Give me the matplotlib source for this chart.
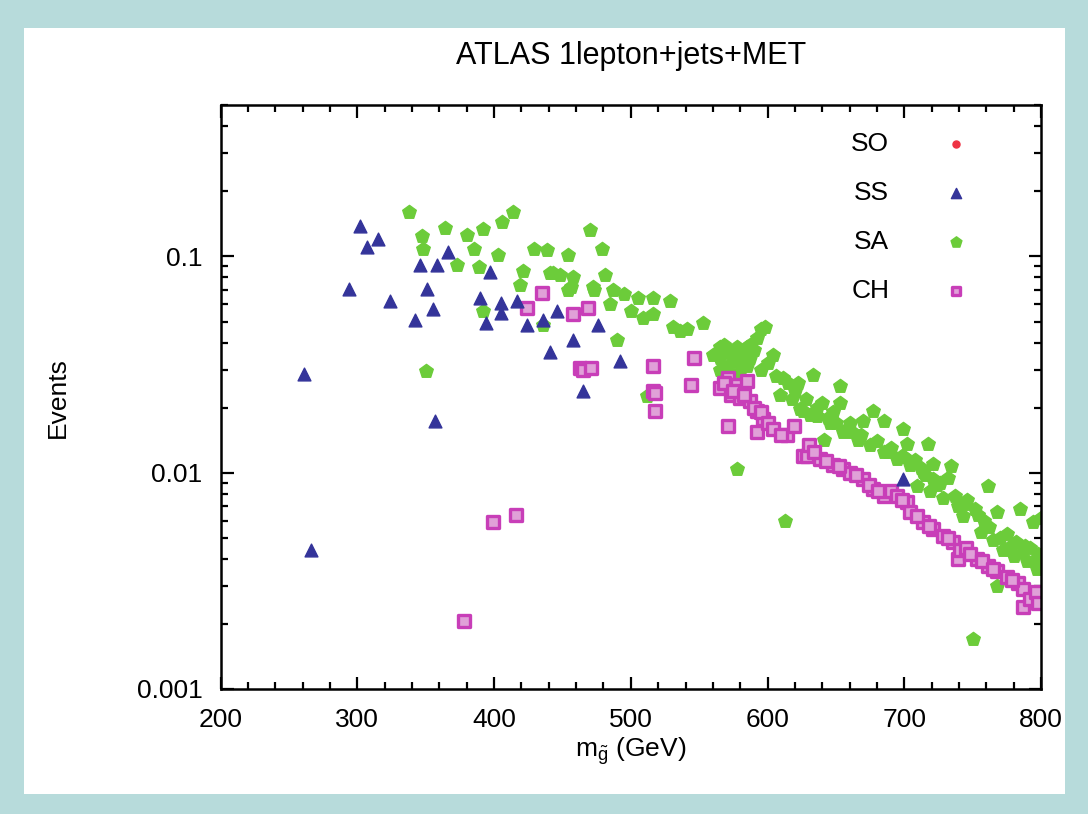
import numpy as np
import matplotlib.pyplot as plt
from matplotlib.patches import Rectangle
from matplotlib.ticker import MultipleLocator, NullFormatter, LogLocator

plt.rcParams['font.family'] = ['Liberation Sans', 'DejaVu Sans']
plt.rcParams['mathtext.fontset'] = 'custom'
plt.rcParams['mathtext.rm'] = 'Liberation Sans'
plt.rcParams['mathtext.it'] = 'Liberation Sans'

# SO: no points in this range
so_m = []
so_ev = []

ss_m = [261, 266, 294, 302, 307, 315, 324, 342, 346, 351, 355, 357, 358, 366,
        390, 394, 397, 405, 405, 417, 424, 436, 441, 446, 458, 465, 476, 492, 699]
ss_ev = [0.0286, 0.0044, 0.071, 0.139, 0.111, 0.121, 0.062, 0.051, 0.091, 0.071,
         0.057, 0.0173, 0.091, 0.105, 0.0645, 0.049, 0.085, 0.061, 0.055, 0.062,
         0.048, 0.051, 0.036, 0.056, 0.041, 0.0238, 0.048, 0.033, 0.0094]

sa_m = [338, 347, 348, 350, 364, 373, 380, 385, 389, 392, 392, 403, 406, 414,
        419, 421, 429, 436, 439, 441, 443, 448, 454, 454, 456, 458, 470, 472,
        473, 479, 481, 485, 487, 490, 495, 500, 505, 509, 512, 516, 516, 529,
        531, 536, 541, 553, 565, 565, 565, 568, 571, 575, 578, 578, 578, 580,
        585, 585, 587, 587, 592, 595, 595, 598, 604, 609, 611, 613, 615, 620,
        624, 626, 628, 631, 633, 636, 640, 641, 646, 648, 653, 653, 655, 660,
        662, 666, 670, 675, 677, 685, 685, 690, 695, 698, 699, 702, 704, 708,
        709, 712, 714, 717, 719, 721, 721, 726, 728, 732, 734, 739, 743, 746,
        750, 752, 756, 758, 761, 765, 768, 768, 772, 775, 780, 782, 785, 788,
        790, 794, 797, 798, 800,
        560, 572, 583, 590, 600, 606, 618, 622, 636, 644, 650, 658, 668, 680,
        688, 700, 715, 724, 737, 744, 754, 762, 770, 778, 786, 796, 792]
sa_ev = [0.160, 0.124, 0.108, 0.0295, 0.136, 0.091, 0.126, 0.108, 0.089, 0.134,
         0.056, 0.102, 0.144, 0.160, 0.074, 0.086, 0.108, 0.048, 0.107, 0.084,
         0.084, 0.082, 0.102, 0.070, 0.072, 0.080, 0.132, 0.072, 0.070, 0.108,
         0.082, 0.060, 0.070, 0.041, 0.067, 0.056, 0.064, 0.052, 0.0226, 0.064,
         0.054, 0.062, 0.047, 0.045, 0.046, 0.049, 0.038, 0.034, 0.030, 0.039,
         0.031, 0.034, 0.038, 0.033, 0.0104, 0.0295, 0.038, 0.031, 0.039, 0.034,
         0.042, 0.046, 0.030, 0.047, 0.035, 0.0228, 0.0274, 0.0060, 0.026, 0.024,
         0.0198, 0.0192, 0.022, 0.0184, 0.0283, 0.0182, 0.021, 0.0141, 0.0169,
         0.019, 0.0251, 0.0209, 0.0155, 0.017, 0.0155, 0.0141, 0.0174, 0.0134,
         0.0192, 0.0174, 0.0125, 0.013, 0.0116, 0.012, 0.0160, 0.0136, 0.0108,
         0.0115, 0.0087, 0.0105, 0.0101, 0.0136, 0.0082, 0.0094, 0.0110, 0.009,
         0.0076, 0.0095, 0.0107, 0.0070, 0.0063, 0.0075, 0.0017, 0.0068, 0.0053,
         0.0060, 0.0087, 0.0049, 0.0066, 0.0030, 0.0044, 0.0052, 0.0041, 0.0048,
         0.0068, 0.0046, 0.0039, 0.0059, 0.0036, 0.0042, 0.0062,
         0.035, 0.036, 0.035, 0.037, 0.032, 0.028, 0.022, 0.026, 0.020, 0.018,
         0.017, 0.016, 0.015, 0.014, 0.0125, 0.0118, 0.0098, 0.0088, 0.0078,
         0.0072, 0.0064, 0.0056, 0.0050, 0.0046, 0.0043, 0.0040, 0.0045]

ch_m = [378, 399, 416, 424, 435, 458, 463, 465, 469, 471, 516, 516, 518, 518,
        544, 546, 565, 571, 571, 573, 578, 580, 585, 587, 592, 592, 597, 614,
        619, 626, 629, 630, 638, 648, 655, 660, 670, 677, 685, 690, 695, 702,
        704, 714, 721, 728, 736, 739, 741, 745, 753, 761, 768, 775, 783, 787,
        787, 792, 796,
        568, 575, 583, 590, 595, 600, 604, 610, 634, 643, 652, 665, 674, 681,
        698, 709, 718, 732, 748, 757, 765, 779, 798]
ch_ev = [0.00207, 0.0059, 0.0064, 0.058, 0.068, 0.054, 0.0305, 0.030, 0.058,
         0.0305, 0.031, 0.024, 0.0233, 0.0192, 0.0254, 0.034, 0.0246, 0.0274,
         0.0165, 0.0229, 0.0254, 0.0221, 0.0265, 0.0214, 0.0192, 0.0155, 0.0178,
         0.0149, 0.0165, 0.0120, 0.0120, 0.0135, 0.0116, 0.0108, 0.0104, 0.010,
         0.0094, 0.0084, 0.0078, 0.0082, 0.0078, 0.0073, 0.0066, 0.0059, 0.0055,
         0.0051, 0.0048, 0.0040, 0.0044, 0.0045, 0.0040, 0.0037, 0.0035, 0.0033,
         0.0031, 0.0029, 0.0024, 0.0026, 0.0028,
         0.026, 0.024, 0.023, 0.020, 0.019, 0.017, 0.016, 0.015, 0.0125, 0.0113,
         0.0107, 0.0098, 0.0088, 0.0082, 0.0075, 0.0063, 0.0057, 0.0050, 0.0042,
         0.0039, 0.0036, 0.0032, 0.0025]

x_ticks = [200, 300, 400, 500, 600, 700, 800]
y_ticks = [0.001, 0.01, 0.1]
y_ticklabels = ['0.001', '0.01', '0.1']

fig = plt.figure(figsize=(10.88, 8.14), dpi=100)
fig.patch.set_facecolor('white')

# light teal frame round the figure
fig.patches.append(Rectangle((0, 0), 1, 1, transform=fig.transFigure,
                             facecolor='#b7dbdb', edgecolor='none', zorder=-3))
fig.patches.append(Rectangle((0.022, 0.025), 0.957, 0.94, transform=fig.transFigure,
                             facecolor='white', edgecolor='none', zorder=-2))

ax = fig.add_axes([0.2028, 0.1536, 0.7540, 0.7170])

ax.scatter(so_m, so_ev, marker='o', s=40, color='#ee3344', label='SO', zorder=3)
ax.scatter(ss_m, ss_ev, marker='^', s=85, color='#34349a', label='SS', zorder=3)
ax.scatter(sa_m, sa_ev, marker='p', s=105, color='#6ccc3a', label='SA', zorder=2)
ax.scatter(ch_m, ch_ev, marker='s', s=65, facecolor='#e0a0d8', edgecolor='#c83eb8',
           linewidth=2.4, label='CH', zorder=2)

ax.set_yscale('log')
ax.set_xlim(200, 800)
ax.set_ylim(0.001, 0.5)

ax.set_xticks(x_ticks)
ax.xaxis.set_minor_locator(MultipleLocator(20))
ax.set_yticks(y_ticks)
ax.set_yticklabels(y_ticklabels)
ax.yaxis.set_minor_locator(LogLocator(base=10, subs=np.arange(2, 10)))
ax.yaxis.set_minor_formatter(NullFormatter())

ax.tick_params(which='both', direction='in', top=True, right=True, width=1.6,
               labelsize=19, colors='black')
ax.tick_params(which='major', length=9)
ax.tick_params(axis='y', which='major', pad=13)
ax.tick_params(axis='x', which='major', pad=14)
ax.tick_params(which='minor', length=5)
for sp in ax.spines.values():
    sp.set_linewidth(1.8)

ax.set_title('ATLAS 1lepton+jets+MET', fontsize=22, pad=30)
ax.set_xlabel(r'm$_{\tilde{g}}$ (GeV)', fontsize=19, labelpad=2)
ax.set_ylabel('Events', fontsize=19, labelpad=48)

leg = ax.legend(loc='upper right', bbox_to_anchor=(0.942, 0.995), frameon=False,
                markerfirst=False, fontsize=19, handletextpad=2.05,
                labelspacing=0.95, markerscale=0.8, handlelength=1.0)

fig.savefig('out.png', dpi=100)
